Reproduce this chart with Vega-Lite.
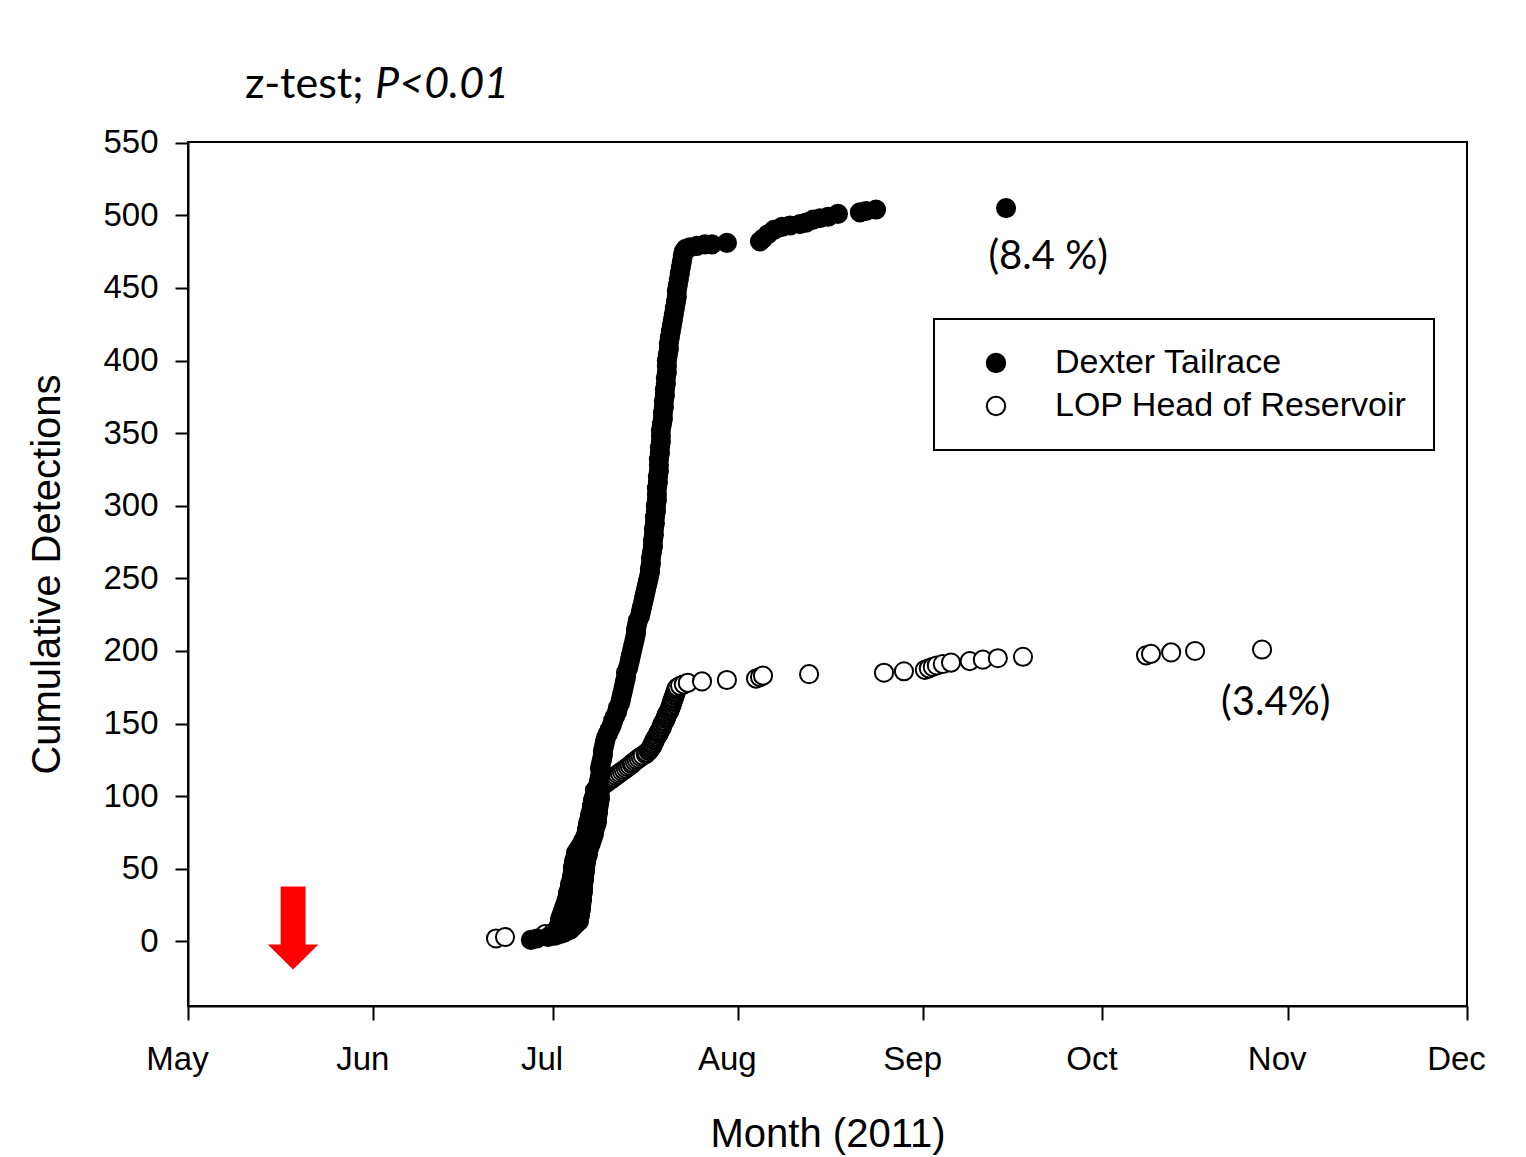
{
  "$schema": "https://vega.github.io/schema/vega-lite/v6.json",
  "width": 1279,
  "height": 864,
  "autosize": "none",
  "padding": {"left": 188, "top": 142, "right": 59, "bottom": 151},
  "background": "white",
  "config": {
    "view": {"stroke": "black", "strokeWidth": 2},
    "axis": {
      "domainColor": "black", "domainWidth": 2, "tickColor": "black", "tickWidth": 2,
      "labelColor": "black", "titleColor": "black", "labelFont": "Liberation Sans", "titleFont": "Liberation Sans",
      "labelFontSize": 33, "titleFontSize": 40, "titleFontWeight": "normal", "grid": false, "labelFlush": false, "labelOverlap": false
    },
    "legend": {
      "orient": "none", "legendX": 746, "legendY": 177, "labelFont": "Liberation Sans", "labelFontSize": 34, "labelColor": "black",
      "labelLimit": 0, "symbolType": "circle", "symbolSize": 340, "symbolStrokeColor": "black", "symbolStrokeWidth": 2,
      "symbolOpacity": 1, "padding": 27, "rowPadding": 9, "symbolOffset": 18, "labelOffset": 42,
      "strokeColor": "black", "strokeWidth": 2, "fillColor": "white"
    }
  },
  "datasets": {
    "dexter": [
      {"date": "2011-06-27T09:00", "count": 1}, {"date": "2011-06-28T09:00", "count": 2}, {"date": "2011-06-30T06:00", "count": 3},
      {"date": "2011-07-01T10:00", "count": 4}, {"date": "2011-07-02T06:00", "count": 5}, {"date": "2011-07-02T22:00", "count": 6},
      {"date": "2011-07-03T10:00", "count": 7},
      {"date": "2011-07-03T22:00", "count": 8}, {"date": "2011-07-01T22:00", "count": 9}, {"date": "2011-07-04T10:00", "count": 10},
      {"date": "2011-07-02T02:00", "count": 11}, {"date": "2011-07-04T22:00", "count": 12}, {"date": "2011-07-02T06:00", "count": 13},
      {"date": "2011-07-05T10:00", "count": 14}, {"date": "2011-07-02T06:00", "count": 15}, {"date": "2011-07-05T10:00", "count": 16},
      {"date": "2011-07-02T10:00", "count": 17}, {"date": "2011-07-05T14:00", "count": 18}, {"date": "2011-07-02T14:00", "count": 19},
      {"date": "2011-07-05T14:00", "count": 20}, {"date": "2011-07-02T18:00", "count": 21}, {"date": "2011-07-05T18:00", "count": 22},
      {"date": "2011-07-02T22:00", "count": 23}, {"date": "2011-07-05T18:00", "count": 24}, {"date": "2011-07-03T02:00", "count": 25},
      {"date": "2011-07-05T18:00", "count": 26}, {"date": "2011-07-03T06:00", "count": 27}, {"date": "2011-07-05T22:00", "count": 28},
      {"date": "2011-07-03T10:00", "count": 29}, {"date": "2011-07-05T22:00", "count": 30}, {"date": "2011-07-03T14:00", "count": 31},
      {"date": "2011-07-05T22:00", "count": 32}, {"date": "2011-07-03T14:00", "count": 33}, {"date": "2011-07-06T02:00", "count": 34},
      {"date": "2011-07-03T18:00", "count": 35}, {"date": "2011-07-06T02:00", "count": 36}, {"date": "2011-07-03T22:00", "count": 37},
      {"date": "2011-07-06T02:00", "count": 38}, {"date": "2011-07-03T22:00", "count": 39}, {"date": "2011-07-06T02:00", "count": 40},
      {"date": "2011-07-04T02:00", "count": 41}, {"date": "2011-07-06T06:00", "count": 42}, {"date": "2011-07-04T06:00", "count": 43},
      {"date": "2011-07-06T06:00", "count": 44}, {"date": "2011-07-04T06:00", "count": 45}, {"date": "2011-07-06T06:00", "count": 46},
      {"date": "2011-07-04T10:00", "count": 47}, {"date": "2011-07-06T10:00", "count": 48}, {"date": "2011-07-04T10:00", "count": 49},
      {"date": "2011-07-06T10:00", "count": 50}, {"date": "2011-07-04T10:00", "count": 51}, {"date": "2011-07-06T10:00", "count": 52},
      {"date": "2011-07-04T14:00", "count": 53}, {"date": "2011-07-06T14:00", "count": 54}, {"date": "2011-07-04T14:00", "count": 55},
      {"date": "2011-07-06T14:00", "count": 56}, {"date": "2011-07-04T18:00", "count": 57}, {"date": "2011-07-06T18:00", "count": 58},
      {"date": "2011-07-04T22:00", "count": 59}, {"date": "2011-07-06T22:00", "count": 60}, {"date": "2011-07-04T22:00", "count": 61},
      {"date": "2011-07-06T22:00", "count": 62}, {"date": "2011-07-05T06:00", "count": 63}, {"date": "2011-07-07T02:00", "count": 64},
      {"date": "2011-07-05T14:00", "count": 65}, {"date": "2011-07-07T06:00", "count": 66}, {"date": "2011-07-05T22:00", "count": 67},
      {"date": "2011-07-07T10:00", "count": 68}, {"date": "2011-07-06T02:00", "count": 69}, {"date": "2011-07-07T14:00", "count": 70},
      {"date": "2011-07-06T10:00", "count": 71}, {"date": "2011-07-07T18:00", "count": 72}, {"date": "2011-07-06T14:00", "count": 73},
      {"date": "2011-07-07T22:00", "count": 74}, {"date": "2011-07-06T18:00", "count": 75}, {"date": "2011-07-07T22:00", "count": 76},
      {"date": "2011-07-06T18:00", "count": 77}, {"date": "2011-07-08T02:00", "count": 78}, {"date": "2011-07-06T22:00", "count": 79},
      {"date": "2011-07-08T06:00", "count": 80}, {"date": "2011-07-06T22:00", "count": 81}, {"date": "2011-07-08T10:00", "count": 82},
      {"date": "2011-07-07T02:00", "count": 83}, {"date": "2011-07-08T10:00", "count": 84}, {"date": "2011-07-07T06:00", "count": 85},
      {"date": "2011-07-08T10:00", "count": 86}, {"date": "2011-07-07T06:00", "count": 87}, {"date": "2011-07-08T14:00", "count": 88},
      {"date": "2011-07-07T10:00", "count": 89}, {"date": "2011-07-08T14:00", "count": 90}, {"date": "2011-07-07T14:00", "count": 91},
      {"date": "2011-07-08T14:00", "count": 92}, {"date": "2011-07-07T14:00", "count": 93}, {"date": "2011-07-08T18:00", "count": 94},
      {"date": "2011-07-07T18:00", "count": 95}, {"date": "2011-07-08T18:00", "count": 96}, {"date": "2011-07-07T18:00", "count": 97},
      {"date": "2011-07-08T22:00", "count": 98}, {"date": "2011-07-07T22:00", "count": 99}, {"date": "2011-07-08T22:00", "count": 100},
      {"date": "2011-07-08T18:00", "count": 101}, {"date": "2011-07-08T22:00", "count": 104},
      {"date": "2011-07-08T14:00", "count": 107}, {"date": "2011-07-08T18:00", "count": 110}, {"date": "2011-07-08T22:00", "count": 113},
      {"date": "2011-07-09T02:00", "count": 116}, {"date": "2011-07-08T22:00", "count": 119}, {"date": "2011-07-09T02:00", "count": 122},
      {"date": "2011-07-09T06:00", "count": 125}, {"date": "2011-07-09T10:00", "count": 128}, {"date": "2011-07-09T10:00", "count": 131},
      {"date": "2011-07-09T14:00", "count": 134}, {"date": "2011-07-09T18:00", "count": 137}, {"date": "2011-07-09T22:00", "count": 140},
      {"date": "2011-07-10T06:00", "count": 143}, {"date": "2011-07-10T14:00", "count": 146}, {"date": "2011-07-10T22:00", "count": 149},
      {"date": "2011-07-11T03:00", "count": 152}, {"date": "2011-07-11T11:00", "count": 155}, {"date": "2011-07-11T19:00", "count": 158},
      {"date": "2011-07-11T23:00", "count": 161}, {"date": "2011-07-12T07:00", "count": 164}, {"date": "2011-07-12T11:00", "count": 167},
      {"date": "2011-07-12T15:00", "count": 170}, {"date": "2011-07-12T19:00", "count": 173}, {"date": "2011-07-12T23:00", "count": 176},
      {"date": "2011-07-13T03:00", "count": 179}, {"date": "2011-07-13T07:00", "count": 182}, {"date": "2011-07-13T07:00", "count": 185},
      {"date": "2011-07-13T15:00", "count": 188}, {"date": "2011-07-13T19:00", "count": 191}, {"date": "2011-07-13T23:00", "count": 194},
      {"date": "2011-07-14T03:00", "count": 197}, {"date": "2011-07-14T07:00", "count": 200}, {"date": "2011-07-14T11:00", "count": 203},
      {"date": "2011-07-14T15:00", "count": 206}, {"date": "2011-07-14T19:00", "count": 209}, {"date": "2011-07-14T23:00", "count": 212},
      {"date": "2011-07-14T23:00", "count": 215}, {"date": "2011-07-15T03:00", "count": 218}, {"date": "2011-07-15T07:00", "count": 221},
      {"date": "2011-07-15T15:00", "count": 224}, {"date": "2011-07-15T19:00", "count": 227}, {"date": "2011-07-15T23:00", "count": 230},
      {"date": "2011-07-16T03:00", "count": 233}, {"date": "2011-07-16T07:00", "count": 236}, {"date": "2011-07-16T11:00", "count": 239},
      {"date": "2011-07-16T15:00", "count": 242}, {"date": "2011-07-16T19:00", "count": 245}, {"date": "2011-07-16T23:00", "count": 248},
      {"date": "2011-07-17T03:00", "count": 251}, {"date": "2011-07-17T07:00", "count": 254}, {"date": "2011-07-17T07:00", "count": 257},
      {"date": "2011-07-17T11:00", "count": 260}, {"date": "2011-07-17T11:00", "count": 264}, {"date": "2011-07-17T15:00", "count": 268},
      {"date": "2011-07-17T19:00", "count": 272}, {"date": "2011-07-17T19:00", "count": 276}, {"date": "2011-07-17T23:00", "count": 280},
      {"date": "2011-07-17T23:00", "count": 284}, {"date": "2011-07-18T03:00", "count": 288}, {"date": "2011-07-18T03:00", "count": 292},
      {"date": "2011-07-18T07:00", "count": 296}, {"date": "2011-07-18T07:00", "count": 300}, {"date": "2011-07-18T11:00", "count": 304},
      {"date": "2011-07-18T11:00", "count": 308}, {"date": "2011-07-18T11:00", "count": 312}, {"date": "2011-07-18T15:00", "count": 316},
      {"date": "2011-07-18T15:00", "count": 320}, {"date": "2011-07-18T19:00", "count": 324}, {"date": "2011-07-18T19:00", "count": 328},
      {"date": "2011-07-18T19:00", "count": 332}, {"date": "2011-07-18T23:00", "count": 336}, {"date": "2011-07-18T23:00", "count": 340},
      {"date": "2011-07-19T03:00", "count": 344}, {"date": "2011-07-19T03:00", "count": 348}, {"date": "2011-07-19T03:00", "count": 352},
      {"date": "2011-07-19T07:00", "count": 356}, {"date": "2011-07-19T11:00", "count": 360}, {"date": "2011-07-19T11:00", "count": 364},
      {"date": "2011-07-19T15:00", "count": 368}, {"date": "2011-07-19T15:00", "count": 372}, {"date": "2011-07-19T19:00", "count": 376},
      {"date": "2011-07-19T19:00", "count": 380}, {"date": "2011-07-19T23:00", "count": 384}, {"date": "2011-07-19T23:00", "count": 388},
      {"date": "2011-07-20T03:00", "count": 392}, {"date": "2011-07-20T03:00", "count": 396}, {"date": "2011-07-20T03:00", "count": 400},
      {"date": "2011-07-20T07:00", "count": 404}, {"date": "2011-07-20T11:00", "count": 408}, {"date": "2011-07-20T11:00", "count": 412},
      {"date": "2011-07-20T15:00", "count": 416}, {"date": "2011-07-20T19:00", "count": 420}, {"date": "2011-07-20T23:00", "count": 424},
      {"date": "2011-07-21T03:00", "count": 428}, {"date": "2011-07-21T07:00", "count": 432}, {"date": "2011-07-21T11:00", "count": 436},
      {"date": "2011-07-21T15:00", "count": 440}, {"date": "2011-07-21T19:00", "count": 444}, {"date": "2011-07-21T19:00", "count": 448},
      {"date": "2011-07-21T23:00", "count": 452}, {"date": "2011-07-22T03:00", "count": 456}, {"date": "2011-07-22T07:00", "count": 460},
      {"date": "2011-07-22T11:00", "count": 464}, {"date": "2011-07-22T15:00", "count": 468}, {"date": "2011-07-22T19:00", "count": 472},
      {"date": "2011-07-22T23:00", "count": 475}, {"date": "2011-07-23T07:00", "count": 477}, {"date": "2011-07-23T23:00", "count": 478},
      {"date": "2011-07-25T04:00", "count": 479}, {"date": "2011-07-26T12:00", "count": 480}, {"date": "2011-07-27T16:00", "count": 480},
      {"date": "2011-07-30T04:00", "count": 481}, {"date": "2011-08-04T17:00", "count": 482}, {"date": "2011-08-05T05:00", "count": 484},
      {"date": "2011-08-06T01:00", "count": 487}, {"date": "2011-08-07T01:00", "count": 490}, {"date": "2011-08-08T09:00", "count": 492},
      {"date": "2011-08-09T17:00", "count": 493}, {"date": "2011-08-11T09:00", "count": 494}, {"date": "2011-08-12T10:00", "count": 495},
      {"date": "2011-08-13T14:00", "count": 497}, {"date": "2011-08-14T18:00", "count": 498}, {"date": "2011-08-16T02:00", "count": 499},
      {"date": "2011-08-17T18:00", "count": 501}, {"date": "2011-08-21T10:00", "count": 502}, {"date": "2011-08-22T11:00", "count": 503},
      {"date": "2011-08-24T03:00", "count": 504}, {"date": "2011-09-14T21:00", "count": 505}
    ],
    "lop": [
      {"date": "2011-06-21T13:00", "count": 2}, {"date": "2011-06-23T01:00", "count": 3}, {"date": "2011-06-29T18:00", "count": 5},
      {"date": "2011-07-01T02:00", "count": 6}, {"date": "2011-07-04T06:00", "count": 15}, {"date": "2011-07-04T22:00", "count": 30},
      {"date": "2011-07-05T06:00", "count": 45}, {"date": "2011-07-06T02:00", "count": 60}, {"date": "2011-07-07T02:00", "count": 75},
      {"date": "2011-07-07T22:00", "count": 90},
      {"date": "2011-07-08T02:00", "count": 104}, {"date": "2011-07-08T10:00", "count": 105}, {"date": "2011-07-08T22:00", "count": 106},
      {"date": "2011-07-09T06:00", "count": 107}, {"date": "2011-07-09T14:00", "count": 108}, {"date": "2011-07-09T22:00", "count": 109},
      {"date": "2011-07-10T06:00", "count": 110}, {"date": "2011-07-10T14:00", "count": 111}, {"date": "2011-07-10T22:00", "count": 112},
      {"date": "2011-07-11T06:00", "count": 113}, {"date": "2011-07-11T14:00", "count": 114}, {"date": "2011-07-11T22:00", "count": 115},
      {"date": "2011-07-12T06:00", "count": 116}, {"date": "2011-07-12T14:00", "count": 117}, {"date": "2011-07-12T22:00", "count": 118},
      {"date": "2011-07-13T06:00", "count": 119}, {"date": "2011-07-13T14:00", "count": 120}, {"date": "2011-07-13T22:00", "count": 121},
      {"date": "2011-07-14T06:00", "count": 122}, {"date": "2011-07-14T10:00", "count": 123}, {"date": "2011-07-14T18:00", "count": 124},
      {"date": "2011-07-15T02:00", "count": 125}, {"date": "2011-07-15T10:00", "count": 126}, {"date": "2011-07-15T18:00", "count": 127},
      {"date": "2011-07-16T02:00", "count": 128}, {"date": "2011-07-16T14:00", "count": 129}, {"date": "2011-07-16T18:00", "count": 130},
      {"date": "2011-07-17T02:00", "count": 131}, {"date": "2011-07-17T06:00", "count": 132}, {"date": "2011-07-17T10:00", "count": 133},
      {"date": "2011-07-17T14:00", "count": 134}, {"date": "2011-07-17T18:00", "count": 135}, {"date": "2011-07-17T18:00", "count": 136},
      {"date": "2011-07-17T22:00", "count": 137}, {"date": "2011-07-18T02:00", "count": 138}, {"date": "2011-07-18T02:00", "count": 139},
      {"date": "2011-07-18T06:00", "count": 140}, {"date": "2011-07-18T10:00", "count": 141}, {"date": "2011-07-18T14:00", "count": 142},
      {"date": "2011-07-18T18:00", "count": 143}, {"date": "2011-07-18T18:00", "count": 144}, {"date": "2011-07-18T22:00", "count": 145},
      {"date": "2011-07-19T02:00", "count": 146}, {"date": "2011-07-19T06:00", "count": 147}, {"date": "2011-07-19T06:00", "count": 148},
      {"date": "2011-07-19T10:00", "count": 149}, {"date": "2011-07-19T10:00", "count": 150}, {"date": "2011-07-19T14:00", "count": 151},
      {"date": "2011-07-19T18:00", "count": 152}, {"date": "2011-07-19T22:00", "count": 153}, {"date": "2011-07-19T22:00", "count": 154},
      {"date": "2011-07-20T02:00", "count": 155}, {"date": "2011-07-20T02:00", "count": 156}, {"date": "2011-07-20T06:00", "count": 157},
      {"date": "2011-07-20T10:00", "count": 158}, {"date": "2011-07-20T14:00", "count": 159}, {"date": "2011-07-20T14:00", "count": 160},
      {"date": "2011-07-20T18:00", "count": 161}, {"date": "2011-07-20T18:00", "count": 162}, {"date": "2011-07-20T22:00", "count": 163},
      {"date": "2011-07-20T22:00", "count": 164}, {"date": "2011-07-21T02:00", "count": 165}, {"date": "2011-07-21T02:00", "count": 166},
      {"date": "2011-07-21T06:00", "count": 167}, {"date": "2011-07-21T06:00", "count": 168}, {"date": "2011-07-21T10:00", "count": 169},
      {"date": "2011-07-21T10:00", "count": 170}, {"date": "2011-07-21T14:00", "count": 171}, {"date": "2011-07-21T14:00", "count": 172},
      {"date": "2011-07-21T18:00", "count": 173}, {"date": "2011-07-21T18:00", "count": 174}, {"date": "2011-07-21T22:00", "count": 175},
      {"date": "2011-07-22T08:00", "count": 176}, {"date": "2011-07-22T23:00", "count": 177},
      {"date": "2011-07-23T15:00", "count": 178}, {"date": "2011-07-26T00:00", "count": 179}, {"date": "2011-07-30T04:00", "count": 180},
      {"date": "2011-08-04T01:00", "count": 181}, {"date": "2011-08-04T17:00", "count": 182}, {"date": "2011-08-05T05:00", "count": 183},
      {"date": "2011-08-12T22:00", "count": 184}, {"date": "2011-08-25T11:00", "count": 185}, {"date": "2011-08-28T19:00", "count": 186},
      {"date": "2011-09-01T07:00", "count": 187}, {"date": "2011-09-01T23:00", "count": 188}, {"date": "2011-09-02T15:00", "count": 189},
      {"date": "2011-09-03T07:00", "count": 190}, {"date": "2011-09-04T07:00", "count": 191}, {"date": "2011-09-05T16:00", "count": 192},
      {"date": "2011-09-08T19:00", "count": 193}, {"date": "2011-09-11T00:00", "count": 194}, {"date": "2011-09-13T12:00", "count": 195},
      {"date": "2011-09-17T17:00", "count": 196}, {"date": "2011-10-08T07:00", "count": 197}, {"date": "2011-10-09T03:00", "count": 198},
      {"date": "2011-10-12T12:00", "count": 199}, {"date": "2011-10-16T12:00", "count": 200}, {"date": "2011-10-27T17:00", "count": 201}
    ],
    "release": [{"date": "2011-05-18T14:00", "count": 9.3}],
    "notes": [
      {"date": "2011-09-21T22:00", "count": 471, "label": "(8.4 %)"},
      {"date": "2011-10-30T00:00", "count": 164, "label": "(3.4%)"}
    ],
    "test": [{"date": "2011-05-10T13:00", "count": 590, "label": "z-test;"}],
    "pvalue": [{"date": "2011-06-01T07:00", "count": 590, "label": "P<0.01"}]
  },
  "layer": [
    {
      "data": {"name": "lop"},
      "mark": {"type": "point", "shape": "circle", "filled": true, "stroke": "black", "strokeWidth": 2, "size": 330, "opacity": 1},
      "encoding": {
        "x": {
          "field": "date", "type": "temporal",
          "scale": {"domain": [{"year": 2011, "month": 5, "date": 1}, {"year": 2011, "month": 12, "date": 1}]},
          "axis": {"format": "%b", "tickCount": {"interval": "month", "step": 1}, "tickSize": 14, "labelPadding": 23, "labelOffset": -11, "title": "Month (2011)", "titlePadding": 38}
        },
        "y": {
          "field": "count", "type": "quantitative",
          "scale": {"domain": [-44.5, 550.5], "nice": false, "zero": false},
          "axis": {"values": [0, 50, 100, 150, 200, 250, 300, 350, 400, 450, 500, 550], "tickSize": 13, "labelPadding": 17, "title": "Cumulative Detections", "titlePadding": 35}
        },
        "fill": {
          "datum": "LOP Head of Reservoir", "type": "nominal",
          "scale": {"domain": ["Dexter Tailrace", "LOP Head of Reservoir"], "range": ["black", "white"]},
          "legend": {"title": null}
        }
      }
    },
    {
      "data": {"name": "dexter"},
      "mark": {"type": "point", "shape": "circle", "filled": true, "stroke": "black", "strokeWidth": 2, "size": 330, "opacity": 1},
      "encoding": {
        "x": {"field": "date", "type": "temporal"},
        "y": {"field": "count", "type": "quantitative"},
        "fill": {"datum": "Dexter Tailrace", "type": "nominal"}
      }
    },
    {
      "data": {"name": "release"},
      "mark": {"type": "point", "shape": "M-0.3,-1L0.3,-1L0.3,0.4L0.61,0.4L0,1L-0.61,0.4L-0.3,0.4Z", "filled": true, "color": "#ff0000", "size": 6889, "opacity": 1, "strokeWidth": 0},
      "encoding": {
        "x": {"field": "date", "type": "temporal"},
        "y": {"field": "count", "type": "quantitative"}
      }
    },
    {
      "data": {"name": "notes"},
      "mark": {"type": "text", "font": "Lato", "fontSize": 40, "align": "center", "baseline": "middle", "color": "black"},
      "encoding": {
        "x": {"field": "date", "type": "temporal"},
        "y": {"field": "count", "type": "quantitative"},
        "text": {"field": "label"}
      }
    },
    {
      "data": {"name": "test"},
      "mark": {"type": "text", "font": "Lato", "fontSize": 43, "align": "left", "baseline": "middle", "color": "black"},
      "encoding": {
        "x": {"field": "date", "type": "temporal"},
        "y": {"field": "count", "type": "quantitative"},
        "text": {"field": "label"}
      }
    },
    {
      "data": {"name": "pvalue"},
      "mark": {"type": "text", "font": "Lato", "fontSize": 43, "fontStyle": "italic", "align": "left", "baseline": "middle", "color": "black"},
      "encoding": {
        "x": {"field": "date", "type": "temporal"},
        "y": {"field": "count", "type": "quantitative"},
        "text": {"field": "label"}
      }
    }
  ]
}
